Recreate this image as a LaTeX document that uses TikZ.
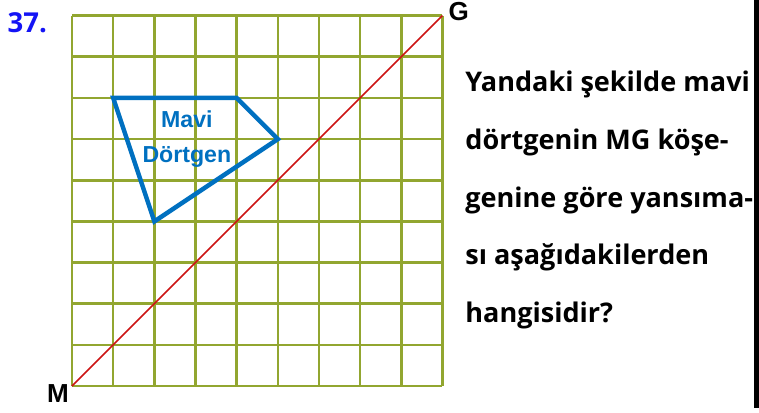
\documentclass[tikz,border=0pt]{standalone}
\usepackage{fontspec}
\setmainfont{Open Sans}
\newfontfamily\arialfont{Liberation Sans}
\usetikzlibrary{positioning}
\definecolor{gridgreen}{RGB}{146,166,48}
\definecolor{mgred}{RGB}{204,20,20}
\definecolor{quadblue}{RGB}{0,112,192}
\definecolor{numblue}{RGB}{20,20,245}

\begin{document}
\begin{tikzpicture}[
  gridline/.style={draw=gridgreen, line width=1.8pt},
  mgline/.style={draw=mgred, line width=1.1pt},
  quad/.style={draw=quadblue, line width=3.1pt, line join=miter},
  qnum/.style={font=\fontsize{19}{20}\selectfont\bfseries, text=numblue, inner sep=0pt, anchor=base west},
  corner/.style={font=\arialfont\fontsize{18}{20}\selectfont\bfseries, inner sep=0pt},
  qtext/.style={font=\fontsize{18.7}{20}\selectfont\bfseries, inner sep=0pt, anchor=base west},
  lbl/.style={font=\arialfont\fontsize{16}{24}\selectfont\bfseries, text=quadblue, align=center, inner sep=0pt}
]
  \useasboundingbox (-1.75,-0.632) rectangle (16.69,9.38);

  \draw[gridline] (0,0) grid (9,9);

  \coordinate (M) at (0,0);
  \coordinate (G) at (9,9);
  \draw[mgline] (M) -- (G);

  \coordinate (qa) at (1,7);
  \coordinate (qb) at (4,7);
  \coordinate (qc) at (5,6);
  \coordinate (qd) at (2,4);
  \draw[quad] (qa) -- (qb) -- (qc) -- (qd) -- cycle;
  \node[lbl] (mavi) at (2.79,6) {Mavi\\Dörtgen};

  \node[corner, anchor=base east] (mlabel) at (-0.07,-0.41) {M};
  \node[corner, anchor=base west] (glabel) at (9.14,8.89) {G};
  \node[qnum] (num) at (-1.57,8.6) {37.};

  \node[qtext] (q1) at (9.55,7.15) {Yandaki şekilde mavi};
  \node[qtext] (q2) at (9.55,5.75) {dörtgenin MG köşe-};
  \node[qtext] (q3) at (9.55,4.35) {genine göre yansıma-};
  \node[qtext] (q4) at (9.55,2.95) {sı aşağıdakilerden};
  \node[qtext] (q5) at (9.55,1.55) {hangisidir?};

  \fill (16.57,-0.53) rectangle (16.69,9.38);
\end{tikzpicture}
\end{document}
